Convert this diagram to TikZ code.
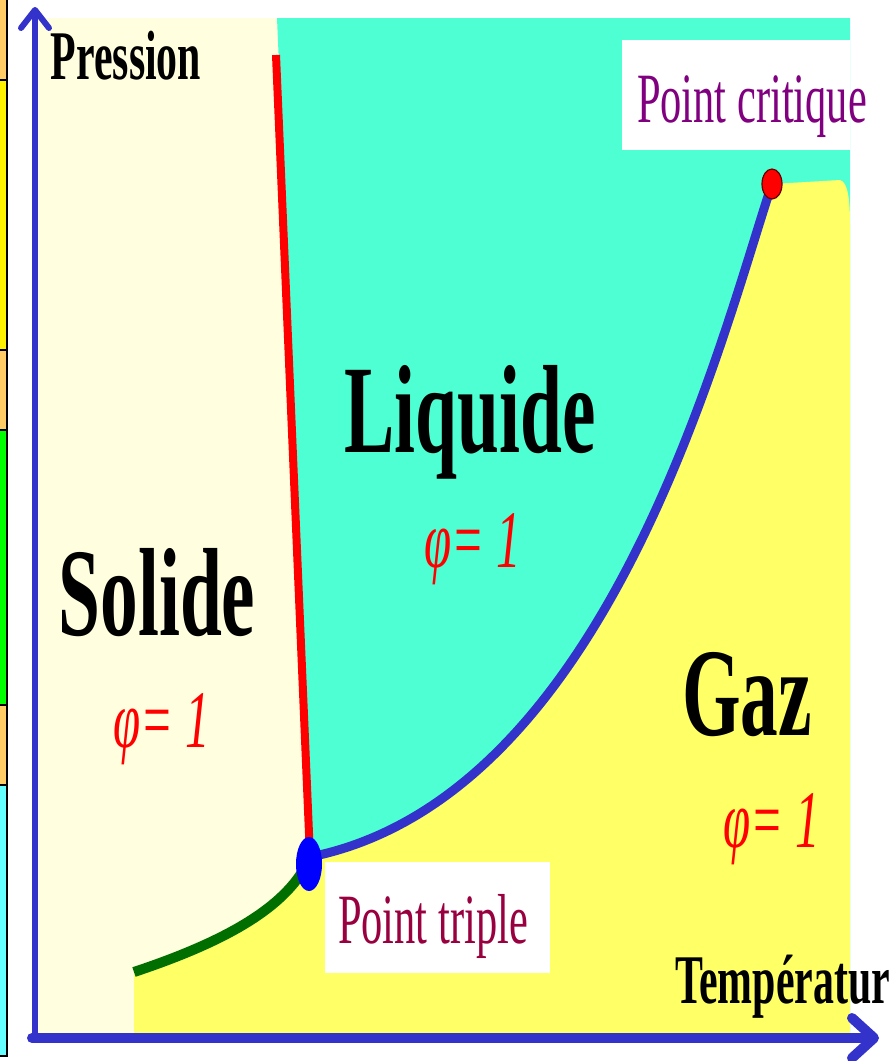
\documentclass[tikz,border=0pt]{standalone}
\usepackage{fontspec}
\usetikzlibrary{arrows.meta}
\newfontfamily\condserif[FakeStretch=0.6]{Liberation Serif}
\definecolor{solidfill}{HTML}{FFFFE0}
\definecolor{liquidfill}{HTML}{4DFFD2}
\definecolor{gasfill}{HTML}{FFFF66}
\definecolor{axisblue}{HTML}{3333CC}
\definecolor{sublgreen}{HTML}{006F00}
\definecolor{critpurple}{HTML}{800080}
\definecolor{triplered}{HTML}{990040}
\definecolor{barorange}{HTML}{FFCC66}
\definecolor{barcyan}{HTML}{66FFFF}

\begin{document}
\begin{tikzpicture}[
  x=1bp, y=-1bp,
  phase/.style={anchor=base, inner sep=0pt, font=\condserif\bfseries\fontsize{126}{126}\selectfont},
  phi/.style={anchor=base, inner sep=0pt, text=red, font=\condserif\itshape\fontsize{82}{82}\selectfont},
  axislabel/.style={anchor=base, inner sep=0pt, font=\condserif\bfseries\fontsize{70}{70}\selectfont},
  pointlabel/.style={anchor=base, inner sep=0pt, font=\condserif\fontsize{71}{71}\selectfont},
  bar/.style={draw=black, line width=1.2bp},
  axis/.style={axisblue, line cap=round}
]
\useasboundingbox (0,0) rectangle (893,1061);

\coordinate (origin) at (35,1038);
\coordinate (ytop) at (35,7);
\coordinate (xend) at (879,1038);
\coordinate (tp) at (310,857);
\coordinate (tpdot) at (309,864);
\coordinate (cp) at (772,184);
\coordinate (sub) at (134,972);
\coordinate (melt) at (276,55);

% phase regions
\fill[solidfill] (38,18) rectangle (312,1033);
\fill[liquidfill] (277,18) -- (850,18) -- (850,1033) -- (313,1033) -- (313,857) -- cycle;
\fill[gasfill] (134,1033) -- (sub) .. controls (224,942) and (289,907) .. (tp)
  .. controls (609,797) and (722,334) .. (cp)
  -- (840,180) .. controls (848,182) and (850,200) .. (850,225) -- (850,1033) -- cycle;
\fill[white] (622,40) rectangle (850,150);
\fill[white] (325,862) rectangle (550,973);

% equilibrium curves
\draw[red, line width=8bp] (melt) -- (tp);
\draw[sublgreen, line width=10bp] (sub) .. controls (224,942) and (289,907) .. (tp);
\draw[axisblue, line width=9bp] (tp) .. controls (609,797) and (722,334) .. (cp);
\fill[blue] (tpdot) ellipse [x radius=13, y radius=27];
\filldraw[fill=red, draw=black!60!red, line width=1.2bp] (cp) ellipse [x radius=10, y radius=15];

% axes
\draw[axis, line width=6bp, -{Straight Barb[length=18bp, width=28bp, round]}] ([yshift=4bp]origin) -- (ytop);
\draw[axis, line width=10bp, -{Straight Barb[length=22bp, width=40bp, round]}] ([xshift=-3bp]origin) -- (xend);

\node[axislabel] (pression) at (126,79) {Pression};
\node[axislabel, anchor=base west] (temp) at (675,1003) {Températur};
\node[phase] (solide) at (157,635) {Solide};
\node[phi] (phisolide) at (162,747) {φ= 1};
\node[phase] (liquide) at (470,452) {Liquide};
\node[phi] (philiquide) at (473,567) {φ= 1};
\node[phase] (gaz) at (747,735) {Gaz};
\node[phi] (phigaz) at (772,847) {φ= 1};
\node[pointlabel, text=critpurple] (critlabel) at (752,122) {Point critique};
\node[pointlabel, text=triplered] (triplelabel) at (433,943) {Point triple};

% colour strip at the left edge
\foreach \ya/\yb/\c in {-3/80/barorange, 80/350/yellow, 350/430/barorange, 430/705/green, 705/785/barorange, 785/1056/barcyan}
  \filldraw[bar, fill=\c] (-3,\ya) rectangle (7,\yb);
\end{tikzpicture}
\end{document}
